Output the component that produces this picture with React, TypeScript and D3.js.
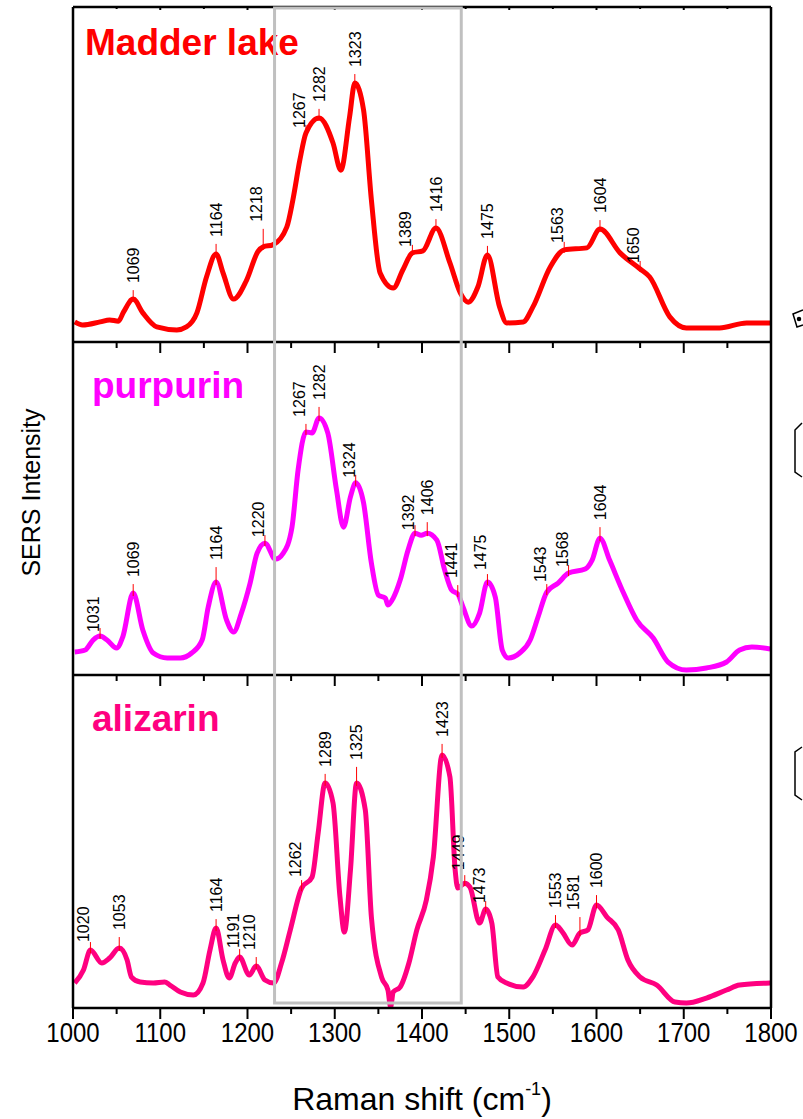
import React from "react";
import * as d3 from "d3";

// Raman shift (cm-1) and SERS intensity (a.u., 0-100 per panel)
const madderLake: [number, number][] = [
  [1002, 6.0], [1011, 5.1], [1031, 6.0], [1042, 6.6], [1052, 6.2], [1058, 9.0], [1069, 12.8], [1080, 8.7],
  [1096, 4.5], [1119, 3.6], [1130, 4.5], [1142, 8.7], [1153, 19.4], [1164, 26.3], [1172, 20.6], [1184, 12.8],
  [1199, 18.5], [1212, 27.0], [1218, 28.4], [1229, 29.0], [1245, 34.3], [1252, 42.4], [1260, 54.3],
  [1267, 62.4], [1282, 66.9], [1298, 59.4], [1307, 51.3], [1317, 67.2], [1323, 77.3], [1333, 69.3],
  [1342, 42.4], [1352, 20.6], [1367, 16.1], [1378, 21.5], [1389, 26.6], [1401, 27.2], [1416, 34.0],
  [1432, 23.6], [1444, 14.6], [1453, 11.9], [1464, 16.4], [1475, 26.0], [1489, 10.4], [1497, 5.7],
  [1516, 6.0], [1527, 10.4], [1547, 22.4], [1563, 27.5], [1589, 28.1], [1604, 33.7], [1627, 26.6],
  [1650, 21.8], [1661, 19.4], [1684, 7.5], [1703, 4.2], [1741, 4.2], [1772, 5.7], [1799, 5.7],
];

const purpurin: [number, number][] = [
  [1002, 6.9], [1014, 7.5], [1023, 10.5], [1031, 11.7], [1039, 10.5], [1050, 8.1], [1057, 11.4], [1069, 24.6],
  [1080, 13.5], [1092, 6.6], [1108, 5.1], [1123, 5.1], [1136, 6.6], [1148, 10.5], [1155, 20.4], [1164, 27.9],
  [1176, 16.5], [1184, 12.9], [1193, 18.6], [1203, 27.6], [1211, 36.6], [1220, 39.6], [1232, 34.8],
  [1241, 36.6], [1251, 44.4], [1258, 61.6], [1267, 73.0], [1274, 72.7], [1282, 77.2], [1292, 72.7],
  [1302, 55.6], [1310, 44.4], [1318, 53.5], [1324, 57.7], [1333, 51.7], [1342, 33.6], [1350, 24.0],
  [1358, 23.1], [1361, 21.0], [1367, 23.1], [1375, 28.5], [1384, 37.5], [1392, 42.6], [1399, 42.0],
  [1406, 42.6], [1417, 40.5], [1426, 31.5], [1434, 25.5], [1441, 24.3], [1447, 20.4], [1457, 14.7],
  [1466, 18.6], [1475, 27.9], [1484, 23.4], [1492, 7.5], [1499, 5.1], [1512, 6.6], [1524, 10.5],
  [1533, 17.4], [1543, 24.9], [1556, 27.6], [1568, 30.6], [1587, 31.8], [1595, 34.5], [1604, 41.1],
  [1615, 34.5], [1631, 24.6], [1646, 16.5], [1665, 11.1], [1682, 3.9], [1703, 1.5], [1726, 2.1],
  [1749, 3.9], [1764, 7.5], [1778, 8.4], [1799, 7.8],
];

const alizarin: [number, number][] = [
  [1002, 7.5], [1012, 11.4], [1020, 17.4], [1033, 13.5], [1042, 15.0], [1053, 18.0], [1062, 14.4],
  [1067, 9.3], [1077, 7.8], [1092, 7.5], [1105, 7.8], [1111, 6.9], [1123, 4.8], [1138, 3.9], [1149, 7.5],
  [1157, 17.4], [1164, 24.0], [1172, 14.4], [1179, 9.0], [1186, 13.5], [1191, 15.3], [1202, 9.9],
  [1210, 12.6], [1220, 8.4], [1230, 7.5], [1239, 13.5], [1249, 23.4], [1262, 36.0], [1274, 39.3],
  [1281, 52.6], [1289, 67.6], [1298, 61.6], [1306, 33.3], [1311, 22.8], [1318, 41.4], [1325, 67.6],
  [1335, 59.5], [1342, 27.3], [1354, 9.0], [1361, 5.4], [1364, 0.3], [1367, 4.8], [1375, 6.3],
  [1385, 13.5], [1394, 23.4], [1405, 32.4], [1413, 45.3], [1423, 76.0], [1432, 69.4], [1438, 41.4],
  [1441, 36.0], [1449, 37.5], [1455, 36.3], [1466, 25.5], [1473, 29.7], [1480, 25.5], [1487, 9.3],
  [1497, 7.5], [1516, 6.3], [1527, 9.3], [1541, 17.4], [1553, 24.9], [1561, 22.8], [1572, 18.9],
  [1581, 22.5], [1590, 23.4], [1600, 30.9], [1612, 27.3], [1625, 23.4], [1636, 14.4], [1650, 9.3],
  [1669, 6.9], [1690, 1.8], [1703, 1.5], [1726, 3.0], [1749, 5.4], [1764, 6.9], [1799, 7.5],
];

// Labelled band positions (cm-1)
const madderPeaks = [1069, 1164, 1218, 1267, 1282, 1323, 1389, 1416, 1475, 1563, 1604, 1650];
const purpurinPeaks = [1031, 1069, 1164, 1220, 1267, 1282, 1324, 1392, 1406, 1441, 1475, 1543, 1568, 1604];
const alizarinPeaks = [1020, 1053, 1164, 1191, 1210, 1262, 1289, 1325, 1423, 1449, 1473, 1553, 1581, 1600];

// Label placement: "c" = centred above the band, "l" = beside it on the left; number = lift in px
const madderPlacement: [string, number][] = [
  ["c", 16], ["c", 17], ["l", 25], ["l", 5], ["c", 16], ["c", 16], ["l", 6], ["c", 16], ["c", 16], ["l", 7], ["c", 16], ["l", 6],
];
const purpurinPlacement: [string, number][] = [
  ["l", 4], ["c", 16], ["c", 22], ["l", 6], ["l", 15], ["c", 18], ["l", 5], ["l", 3], ["c", 18], ["l", 16], ["l", 12], ["l", 10], ["l", 6], ["c", 18],
];
const alizarinPlacement: [string, number][] = [
  ["l", 8], ["c", 18], ["c", 16], ["l", 9], ["l", 16], ["l", 11], ["c", 16], ["c", 23], ["c", 18], ["l", 13], ["l", 6], ["c", 17], ["l", 23], ["c", 17],
];

const xTicks = [1000, 1100, 1200, 1300, 1400, 1500, 1600, 1700, 1800];
const xMinorTicks = [1050, 1150, 1250, 1350, 1450, 1550, 1650, 1750];
const highlightRange = [1231, 1445];

const FONT = "'Liberation Sans', Arial, Helvetica, sans-serif";
const W = 803;
const H = 1119;
const left = 73;
const right = 771;
const panelEdges = [7, 342, 675, 1008];

const x = d3.scaleLinear().domain([1000, 1800]).range([left, right]);

type Panel = {
  name: string;
  color: string;
  data: [number, number][];
  peaks: number[];
  placement: [string, number][];
};

const panels: Panel[] = [
  { name: "Madder lake", color: "#ff0000", data: madderLake, peaks: madderPeaks, placement: madderPlacement },
  { name: "purpurin", color: "#ff00ff", data: purpurin, peaks: purpurinPeaks, placement: purpurinPlacement },
  { name: "alizarin", color: "#ff0080", data: alizarin, peaks: alizarinPeaks, placement: alizarinPlacement },
];

function valueAt(data: [number, number][], wn: number): number {
  const i = d3.bisector((d: [number, number]) => d[0]).left(data, wn);
  if (i <= 0) return data[0][1];
  if (i >= data.length) return data[data.length - 1][1];
  const [x0, y0] = data[i - 1];
  const [x1, y1] = data[i];
  if (x1 === wn) return y1;
  return y0 + ((wn - x0) / (x1 - x0)) * (y1 - y0);
}

export default function App() {
  return (
    <svg width={W} height={H} style={{ position: "absolute", left: 0, top: 0, background: "#fff" }} fontFamily={FONT}>
      <defs>
        {panels.map((p, i) => (
          <clipPath id={`clip${i}`} key={i}>
            <rect x={left} y={panelEdges[i]} width={right - left} height={panelEdges[i + 1] - panelEdges[i]} />
          </clipPath>
        ))}
      </defs>

      {panels.map((p, i) => {
        const top = panelEdges[i];
        const bottom = panelEdges[i + 1];
        const y = d3.scaleLinear().domain([0, 100]).range([bottom, top]);
        const line = d3
          .line<[number, number]>()
          .x((d) => x(d[0]))
          .y((d) => y(d[1]))
          .curve(d3.curveMonotoneX);
        return (
          <g key={p.name}>
            <text x={left + (i === 0 ? 12 : 19)} y={top + (i === 0 ? 48 : 56)} fontSize={37} fontWeight="bold" fill={p.color}>
              {p.name}
            </text>
            <path d={line(p.data) || ""} fill="none" stroke={p.color} strokeWidth={5} strokeLinejoin="round" clipPath={`url(#clip${i})`} />
            {p.peaks.map((wn, k) => {
              const [side, lift] = p.placement[k];
              const px = x(wn);
              const py = y(valueAt(p.data, wn));
              const tickTop = py - Math.max(8, lift - 7);
              const tx = side === "c" ? px + 5.7 : px - 1;
              const ty = py - lift;
              return (
                <g key={wn}>
                  <line x1={px} x2={px} y1={py + 3} y2={tickTop} stroke="#ff0000" strokeWidth={1} />
                  <text transform={`translate(${tx},${ty}) rotate(-90)`} fontSize={16} fill="#000">
                    {wn}
                  </text>
                </g>
              );
            })}
            {/* inward ticks along each panel's top edge */}
            {xTicks.map((t) => (
              <line key={`M${t}`} x1={x(t)} x2={x(t)} y1={top} y2={top + (i === 0 ? 3 : 11)} stroke="#000" strokeWidth={2} />
            ))}
            {xMinorTicks.map((t) => (
              <line key={`m${t}`} x1={x(t)} x2={x(t)} y1={top} y2={top + (i === 0 ? 2 : 6)} stroke="#000" strokeWidth={2} />
            ))}
          </g>
        );
      })}

      {/* panel frames */}
      {panelEdges.map((e) => (
        <line key={e} x1={left} x2={right} y1={e} y2={e} stroke="#000" strokeWidth={2.5} />
      ))}
      <line x1={left} x2={left} y1={panelEdges[0]} y2={panelEdges[3]} stroke="#000" strokeWidth={2.5} />
      <line x1={right} x2={right} y1={panelEdges[0]} y2={panelEdges[3]} stroke="#000" strokeWidth={2.5} />

      {/* highlighted region */}
      <rect
        x={x(highlightRange[0])}
        y={panelEdges[0] + 1}
        width={x(highlightRange[1]) - x(highlightRange[0])}
        height={panelEdges[3] - 5 - panelEdges[0] - 1}
        fill="none"
        stroke="#c0c0c0"
        strokeWidth={3}
      />

      {/* bottom axis */}
      {xTicks.map((t) => (
        <g key={t}>
          <line x1={x(t)} x2={x(t)} y1={panelEdges[3]} y2={panelEdges[3] + 11} stroke="#000" strokeWidth={2} />
          <text transform={`translate(${x(t)},1042) scale(1,1.12)`} fontSize={24} textAnchor="middle" fill="#000">
            {t}
          </text>
        </g>
      ))}
      {xMinorTicks.map((t) => (
        <line key={t} x1={x(t)} x2={x(t)} y1={panelEdges[3]} y2={panelEdges[3] + 6} stroke="#000" strokeWidth={2} />
      ))}

      <text x={422} y={1110} fontSize={32} textAnchor="middle" fill="#000">
        Raman shift (cm
        <tspan fontSize={18} dy={-15}>-1</tspan>
        <tspan dy={15}>)</tspan>
      </text>

      <text transform={`translate(40,${(panelEdges[0] + panelEdges[3]) / 2 - 15}) rotate(-90)`} fontSize={25} textAnchor="middle" fill="#000">
        SERS Intensity
      </text>

      {/* edges of adjoining structure drawings */}
      <g fill="none" stroke="#000" strokeWidth={1.5}>
        <path d="M803,310 L793,314 L797,327 L803,325" />
        <circle cx={799} cy={319} r={1.5} fill="#000" />
        <path d="M802,423 L795,430 L795,472 L802,477" />
        <path d="M802,747 L795,752 L795,795 L802,800" />
      </g>
    </svg>
  );
}
